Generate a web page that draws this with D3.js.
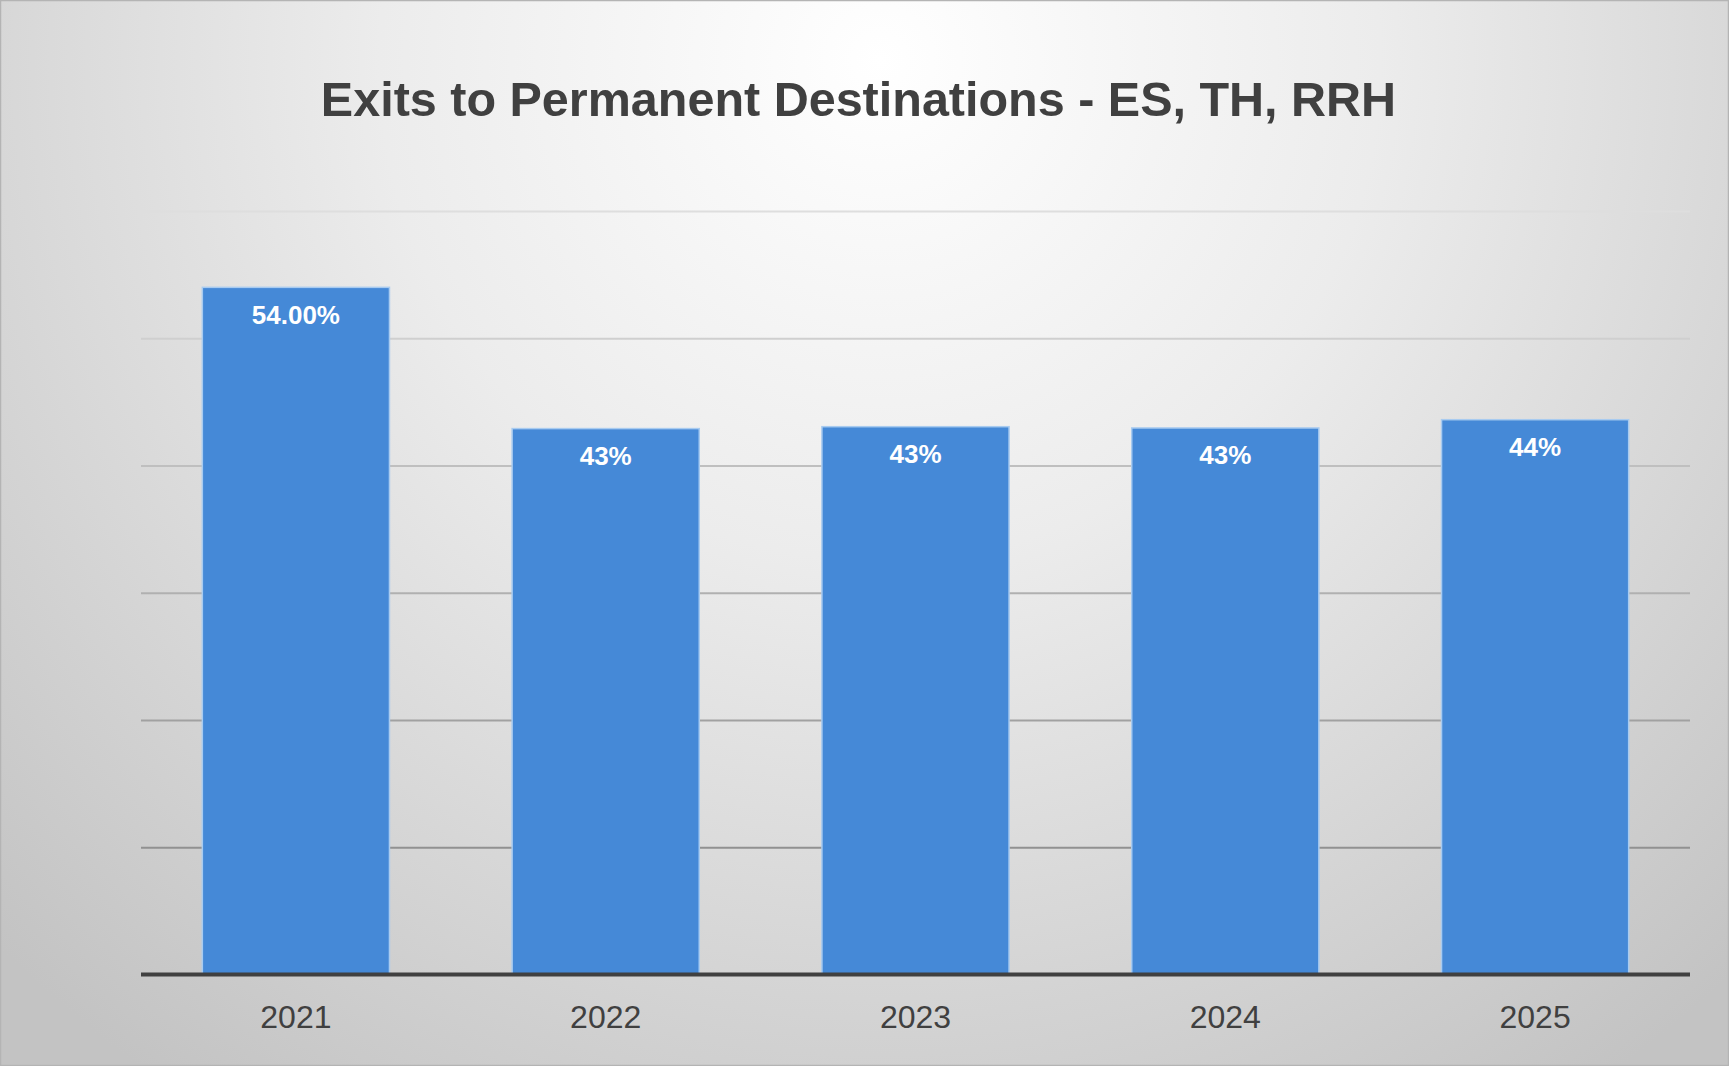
<!DOCTYPE html>
<html lang="en">
<head>
    <meta charset="UTF-8">
    <title>Exits to Permanent Destinations</title>
    <script src="https://d3js.org/d3.v7.min.js"></script>
    <style>
        body { margin: 0; background: #fff; }
        svg { display: block; }
        .grid path { stroke-width: 0; }
        .grid line { stroke-width: 2px; }
        .x-axis path { stroke-width: 0; }
        .x-axis text {
            font-family: "Helvetica Neue", Helvetica, Arial, "Liberation Sans", sans-serif;
            font-size: 32px;
            fill: #404040;
        }
        .bar { fill: #4589d7; stroke: #a8cbf0; stroke-width: 1.5px; }
        .bar-label {
            font-family: "Helvetica Neue", Helvetica, Arial, "Liberation Sans", sans-serif;
            font-weight: bold;
            font-size: 26px;
            fill: #ffffff;
        }
        .title {
            font-family: "Helvetica Neue", Helvetica, Arial, "Liberation Sans", sans-serif;
            font-weight: bold;
            font-size: 48.5px;
            fill: #404040;
        }
    </style>
</head>
<body>
<div id="chart"></div>
<script>
    // values (percent)
    const years = ["2021", "2022", "2023", "2024", "2025"];
    const values = [54, 42.9, 43.05, 42.95, 43.6];
    const valueLabels = ["54.00%", "43%", "43%", "43%", "44%"];
    const yTicks = [10, 20, 30, 40, 50, 60];
    const yMax = 60;

    const W = 1729, H = 1066;
    const margin = {top: 211, right: 39, bottom: 91.5, left: 141};
    const width = W - margin.left - margin.right;
    const height = H - margin.top - margin.bottom;

    const svg = d3.select("#chart")
        .append("svg")
        .attr("width", W)
        .attr("height", H);

    const defs = svg.append("defs");

    // light radial background, brightest near the title
    const bg = defs.append("radialGradient")
        .attr("id", "bgGrad")
        .attr("gradientUnits", "userSpaceOnUse")
        .attr("cx", 880).attr("cy", 60).attr("r", 1250);
    bg.append("stop").attr("offset", "0%").attr("stop-color", "#ffffff");
    bg.append("stop").attr("offset", "40%").attr("stop-color", "#ececec");
    bg.append("stop").attr("offset", "100%").attr("stop-color", "#c3c3c3");

    svg.append("rect")
        .attr("x", 0.5).attr("y", 0.5)
        .attr("width", W - 1).attr("height", H - 1)
        .attr("fill", "url(#bgGrad)")
        .attr("stroke", "#b4b4b4")
        .attr("stroke-width", 1.5);

    svg.append("text")
        .attr("class", "title")
        .attr("x", 858.5)
        .attr("y", 116)
        .attr("text-anchor", "middle")
        .text("Exits to Permanent Destinations - ES, TH, RRH");

    const g = svg.append("g")
        .attr("transform", `translate(${margin.left},${margin.top})`);

    const x = d3.scaleBand()
        .domain(years)
        .range([0, width])
        .paddingInner(0.396)
        .paddingOuter(0.198);

    const y = d3.scaleLinear()
        .domain([0, yMax])
        .range([height, 0]);

    // gridlines get darker towards the bottom
    const gridColor = d3.interpolateRgb("#dedede", "#828282");

    g.append("g")
        .attr("class", "grid")
        .call(d3.axisLeft(y)
            .tickValues(yTicks)
            .tickSize(-width)
            .tickFormat(""))
        .selectAll(".tick line")
        .attr("stroke", d => gridColor(y(d) / height));

    // bars
    g.selectAll(".bar")
        .data(values)
        .enter()
        .append("rect")
        .attr("class", "bar")
        .attr("x", (d, i) => x(years[i]))
        .attr("width", x.bandwidth())
        .attr("y", d => y(d))
        .attr("height", d => height - y(d));

    // value labels inside the bar top
    g.selectAll(".bar-label")
        .data(values)
        .enter()
        .append("text")
        .attr("class", "bar-label")
        .attr("x", (d, i) => x(years[i]) + x.bandwidth() / 2)
        .attr("y", d => y(d) + 36.5)
        .attr("text-anchor", "middle")
        .text((d, i) => valueLabels[i]);

    // baseline
    g.append("line")
        .attr("x1", 0).attr("x2", width)
        .attr("y1", height).attr("y2", height)
        .attr("stroke", "#404040")
        .attr("stroke-width", 4);

    // category labels
    g.append("g")
        .attr("class", "x-axis")
        .attr("transform", `translate(0,${height})`)
        .call(d3.axisBottom(x).tickSize(0).tickPadding(30.5));
</script>
</body>
</html>
